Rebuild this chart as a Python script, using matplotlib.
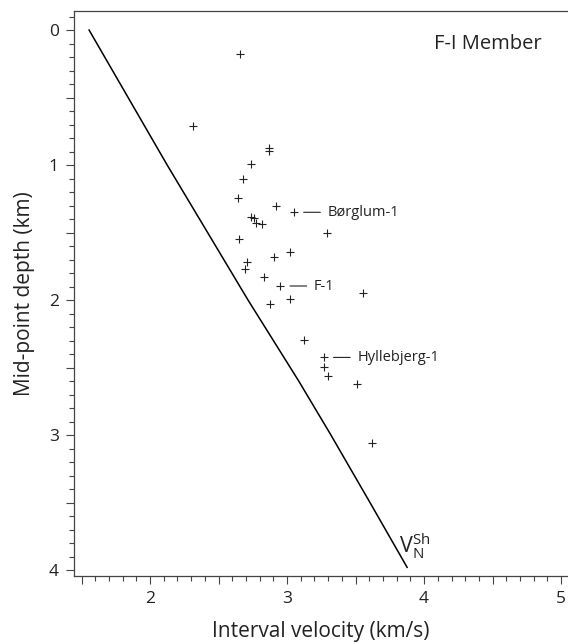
import matplotlib
matplotlib.use('Agg')
import matplotlib.pyplot as plt
from matplotlib.ticker import MultipleLocator, FuncFormatter

plt.rcParams['font.family'] = ['Open Sans', 'DejaVu Sans']
plt.rcParams['mathtext.fontset'] = 'custom'
plt.rcParams['mathtext.rm'] = 'Open Sans'

ink = '#222222'

# Interval velocity (km/s) and mid-point depth (km) of the F-I Member
velocity = [2.66, 2.31, 2.87, 2.87, 2.74, 2.68, 2.64, 2.92, 3.05, 2.74,
            2.76, 2.774, 2.82, 3.29, 2.65, 3.02, 2.905, 2.71, 2.696, 2.834,
            2.95, 3.557, 3.024, 2.878, 3.126, 3.268, 3.268, 3.30, 3.512, 3.62]
depth = [0.178, 0.711, 0.872, 0.894, 0.993, 1.104, 1.247, 1.30, 1.35, 1.387,
         1.389, 1.427, 1.44, 1.50, 1.548, 1.647, 1.684, 1.716, 1.773, 1.832,
         1.896, 1.95, 1.993, 2.03, 2.296, 2.425, 2.494, 2.566, 2.624, 3.059]

# Normal velocity-depth trend V_N^Sh
trend_depth = [0.0, 1.0, 2.0, 2.6, 3.0, 3.5, 3.98]
trend_velocity = [1.555, 2.125, 2.715, 3.085, 3.32, 3.605, 3.876]

# Labelled wells
wells = ['Børglum-1', 'F-1', 'Hyllebjerg-1']
well_velocity = [3.05, 2.95, 3.268]
well_depth = [1.35, 1.896, 2.425]

fig = plt.figure(figsize=(5.68, 6.44), dpi=100)
ax = fig.add_axes([74 / 568, 1 - 576 / 644, 1 - 74 / 568, (576 - 11) / 644])

ax.plot(trend_velocity, trend_depth, color='black', lw=1.1)
ax.plot(velocity, depth, ls='none', marker='+', ms=6, mew=0.8, color=ink)

for name, v, d in zip(wells, well_velocity, well_depth):
    ax.annotate(name, xy=(v, d), xytext=(24, 0), textcoords='offset points',
                ha='left', va='center', fontsize=10.5, color=ink,
                arrowprops=dict(arrowstyle='-', color=ink, lw=0.8,
                                shrinkA=3, shrinkB=7))

ax.text(4.07, 0.10, 'F-I Member', ha='left', va='center', fontsize=14.5, color=ink)
ax.text(3.82, 3.87, r'$\mathregular{V_N^{Sh}}$', ha='left', va='baseline',
        fontsize=15.5, color=ink)

ax.set_xlim(1.445, 5.05)
ax.set_ylim(4.044, -0.141)

ax.xaxis.set_major_locator(MultipleLocator(0.5))
ax.xaxis.set_minor_locator(MultipleLocator(0.1))
ax.yaxis.set_major_locator(MultipleLocator(0.5))
ax.yaxis.set_minor_locator(MultipleLocator(0.1))
int_only = FuncFormatter(lambda val, pos: f'{val:.0f}' if abs(val - round(val)) < 1e-6 else '')
ax.xaxis.set_major_formatter(int_only)
ax.yaxis.set_major_formatter(int_only)

ax.tick_params(which='major', direction='out', length=6, width=0.8,
               color='#444444', labelsize=12.5, labelcolor=ink, pad=5)
ax.tick_params(which='minor', direction='out', length=3.6, width=0.8, color='#444444')
ax.tick_params(top=False, right=False, which='both')

for side in ['left', 'bottom', 'top']:
    ax.spines[side].set_color('#444444')
    ax.spines[side].set_linewidth(0.9)
ax.spines['right'].set_visible(False)

ax.set_xlabel('Interval velocity (km/s)', fontsize=15, color=ink, labelpad=10)
ax.set_ylabel('Mid-point depth (km)', fontsize=15, color=ink, labelpad=10)

fig.savefig('out.png', dpi=100)
